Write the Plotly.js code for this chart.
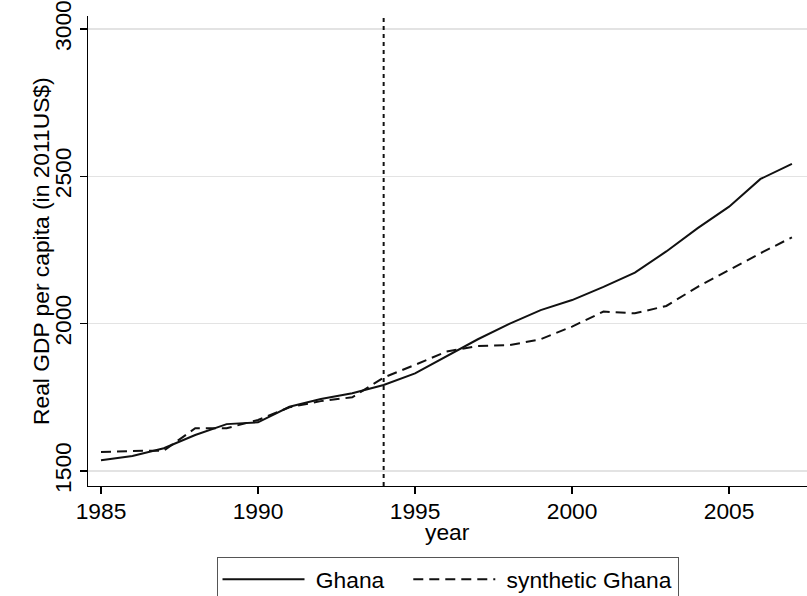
<!DOCTYPE html>
<html>
<head>
<meta charset="utf-8">
<script src="https://cdn.plot.ly/plotly-3.0.1.min.js"></script>
<style>
  html, body { margin: 0; padding: 0; background: #ffffff; }
  #chart { width: 807px; height: 596px; }
</style>
</head>
<body>
<div id="chart"></div>
<script>
// Real GDP per capita, Ghana vs. synthetic control, 1985-2007
var years = [1985, 1986, 1987, 1988, 1989, 1990, 1991, 1992, 1993, 1994, 1995, 1996,
             1997, 1998, 1999, 2000, 2001, 2002, 2003, 2004, 2005, 2006, 2007];
var ghana = [1536, 1551, 1577, 1622, 1659, 1665, 1718, 1744, 1764, 1792, 1831, 1888,
             1947, 1999, 2046, 2080, 2125, 2173, 2245, 2324, 2397, 2491, 2542];
var synthetic = [1564, 1568, 1569, 1645, 1645, 1673, 1716, 1737, 1750, 1817, 1860, 1905,
                 1924, 1927, 1947, 1990, 2041, 2035, 2060, 2125, 2182, 2239, 2293];
var treatmentYear = 1994;
var yTicks = [1500, 2000, 2500, 3000];
var xTicks = [1985, 1990, 1995, 2000, 2005];
var xTitle = 'year';
var yTitle = 'Real GDP per capita (in 2011US$)';

var FONT = 'Liberation Sans, Arial, sans-serif';
var FS = 22.8;
var NB = '\u00a0';

var traces = [
  {
    x: years, y: ghana, name: NB + 'Ghana' + NB + NB + NB, type: 'scatter', mode: 'lines',
    line: { color: '#111111', width: 2 }
  },
  {
    x: years, y: synthetic, name: NB + 'synthetic Ghana', type: 'scatter', mode: 'lines',
    line: { color: '#111111', width: 2, dash: '10px,6px' }
  }
];

var layout = {
  width: 807, height: 596,
  margin: { l: 88, r: 0, t: 16, b: 110 },
  paper_bgcolor: '#ffffff',
  plot_bgcolor: '#ffffff',
  font: { family: FONT, size: FS, color: '#000000' },
  showlegend: true,
  xaxis: {
    range: [1984.586, 2007.48],
    tickvals: xTicks,
    ticktext: xTicks.map(String),
    ticks: 'outside', ticklen: 7, tickwidth: 1.3, tickcolor: '#000000',
    ticklabelstandoff: -3,
    showline: true, linecolor: '#000000', linewidth: 1.3,
    showgrid: false, zeroline: false,
    tickfont: { family: FONT, size: FS, color: '#000000' }
  },
  yaxis: {
    range: [1449, 3044],
    tickvals: yTicks,
    ticktext: yTicks.map(String),
    tickangle: -90,
    ticks: 'outside', ticklen: 7, tickwidth: 1.3, tickcolor: '#000000',
    showline: true, linecolor: '#000000', linewidth: 1.3,
    showgrid: true, gridcolor: '#e3e3e3', gridwidth: 1.2,
    zeroline: false,
    tickfont: { family: FONT, size: FS, color: '#000000' }
  },
  annotations: [
    {
      text: xTitle, showarrow: false,
      xref: 'paper', x: 0.5, xanchor: 'center',
      yref: 'paper', y: (486 - 532) / 470, yanchor: 'middle',
      font: { family: FONT, size: FS, color: '#000000' }
    },
    {
      text: yTitle, showarrow: false, textangle: -90,
      xref: 'paper', x: (41 - 88) / 719, xanchor: 'center',
      yref: 'paper', y: 0.5, yanchor: 'middle',
      font: { family: FONT, size: FS, color: '#000000' }
    }
  ],
  shapes: [
    {
      type: 'line', xref: 'x', yref: 'paper',
      x0: treatmentYear, x1: treatmentYear, y0: 0, y1: 1,
      line: { color: '#111111', width: 2, dash: '4px,4px' }
    }
  ],
  legend: {
    orientation: 'h',
    xref: 'paper', x: 0.5, xanchor: 'center',
    yref: 'container', y: 1 - 557 / 596, yanchor: 'top',
    bordercolor: '#555555', borderwidth: 1,
    bgcolor: '#ffffff',
    itemwidth: 82,
    font: { family: FONT, size: FS, color: '#000000' },
    traceorder: 'normal'
  }
};

Plotly.newPlot('chart', traces, layout, { staticPlot: true, displayModeBar: false });
</script>
</body>
</html>
